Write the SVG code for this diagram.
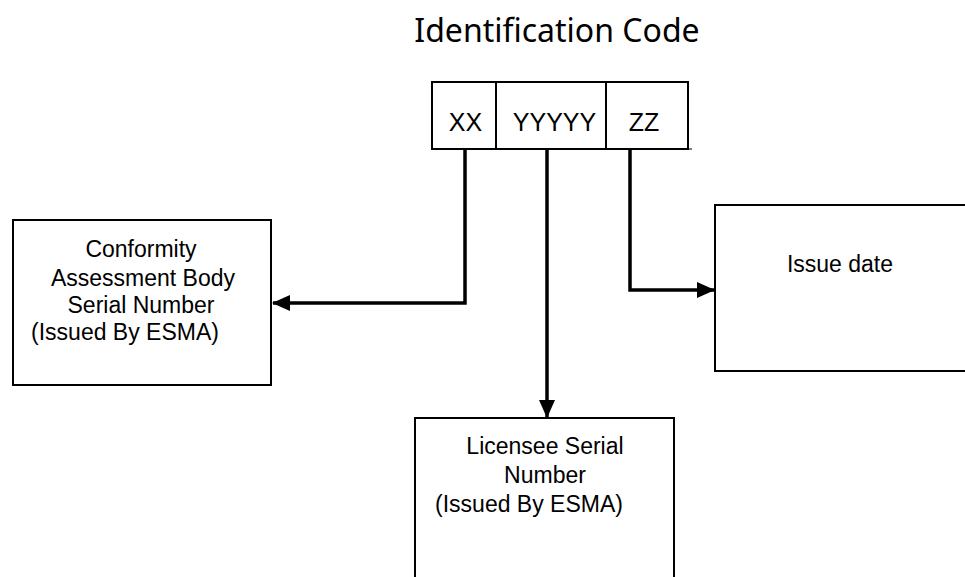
<svg xmlns="http://www.w3.org/2000/svg" width="965" height="577" viewBox="0 0 965 577">
<style>
.box{fill:#fff;stroke:#000;stroke-width:2}
.lbl{font-family:"Liberation Sans",Arial,sans-serif;font-size:23px;fill:#000;text-anchor:middle}
.code{font-family:"Liberation Sans",Arial,sans-serif;font-size:25px;fill:#000;text-anchor:middle}
.conn{fill:none;stroke:#000;stroke-width:3.5}
</style>
<defs>
<marker id="arr" markerUnits="userSpaceOnUse" markerWidth="18" markerHeight="16" refX="17" refY="8" orient="auto">
<path d="M0,0 L18,8 L0,16 Z" fill="#000"/>
</marker>
</defs>
<rect width="965" height="577" fill="#fff"/>
<text x="557" y="42" font-family="'Noto Sans',sans-serif" font-size="32" text-anchor="middle" fill="#000">Identification Code</text>
<g id="code">
<rect class="box" x="432" y="82" width="256" height="67"/>
<line x1="496" y1="82" x2="496" y2="149" stroke="#000" stroke-width="2"/>
<line x1="606" y1="82" x2="606" y2="149" stroke="#000" stroke-width="2"/>
<line x1="688" y1="149" x2="692" y2="149" stroke="#000" stroke-width="1"/>
<text class="code" x="465.5" y="131">XX</text>
<text class="code" x="554.5" y="131">YYYYY</text>
<text class="code" x="644" y="131">ZZ</text>
</g>
<g id="cab">
<rect class="box" x="13" y="220" width="258" height="165"/>
<text class="lbl" x="141" y="257">Conformity</text>
<text class="lbl" x="143" y="286">Assessment Body</text>
<text class="lbl" x="141" y="313">Serial Number</text>
<text class="lbl" x="125" y="340">(Issued By ESMA)</text>
</g>
<g id="licensee">
<rect class="box" x="415" y="418" width="259" height="180"/>
<text class="lbl" x="545" y="454">Licensee Serial</text>
<text class="lbl" x="545" y="483">Number</text>
<text class="lbl" x="529" y="512">(Issued By ESMA)</text>
</g>
<g id="issue">
<rect class="box" x="715" y="205" width="260" height="166"/>
<text class="lbl" x="840" y="272">Issue date</text>
</g>
<g id="connectors">
<polyline class="conn" points="465,150 465,303 273,303" marker-end="url(#arr)"/>
<polyline class="conn" points="547,150 547,417" marker-end="url(#arr)"/>
<polyline class="conn" points="630,150 630,290 714,290" marker-end="url(#arr)"/>
</g>
</svg>
